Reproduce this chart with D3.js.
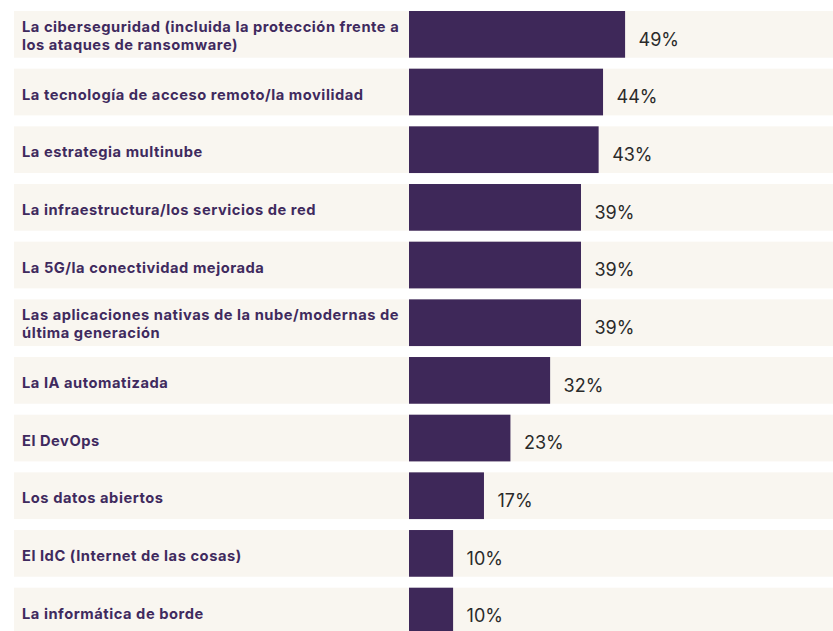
<!DOCTYPE html>
<html>
<head>
<meta charset="utf-8">
<script src="https://cdn.jsdelivr.net/npm/d3@7"></script>
<style>
  html, body { margin: 0; padding: 0; background: #ffffff; }
  svg { display: block; }
</style>
</head>
<body>
<svg id="chart" width="833" height="631"></svg>
<script>
const categories = [
  "La ciberseguridad (incluida la protección frente a\nlos ataques de ransomware)",
  "La tecnología de acceso remoto/la movilidad",
  "La estrategia multinube",
  "La infraestructura/los servicios de red",
  "La 5G/la conectividad mejorada",
  "Las aplicaciones nativas de la nube/modernas de\núltima generación",
  "La IA automatizada",
  "El DevOps",
  "Los datos abiertos",
  "El IdC (Internet de las cosas)",
  "La informática de borde"
];
const values = [49, 44, 43, 39, 39, 39, 32, 23, 17, 10, 10];

const data = categories.map((c, i) => ({ cat: c, value: values[i] }));

const svg = d3.select("#chart");
const W = 833;

const y = d3.scaleBand()
  .domain(categories)
  .range([11, 11 + 57.67 * (categories.length - 0.19)])
  .paddingInner(0.19)
  .paddingOuter(0);

const x = d3.scaleLinear().domain([0, 100]).range([409, 850]);

const rows = svg.selectAll("g.row").data(data).join("g").attr("class", "row");

rows.append("rect")
  .attr("x", 14)
  .attr("y", d => y(d.cat))
  .attr("width", W - 14)
  .attr("height", y.bandwidth())
  .attr("fill", "#f9f6f0");

rows.append("rect")
  .attr("x", x(0))
  .attr("y", d => y(d.cat))
  .attr("width", d => x(d.value) - x(0))
  .attr("height", y.bandwidth())
  .attr("fill", "#3e2859");

rows.each(function(d) {
  const g = d3.select(this);
  const lines = d.cat.split("\n");
  const top = y(d.cat);
  const t = g.append("text")
    .attr("font-family", "Inter, 'DejaVu Sans', sans-serif")
    .attr("font-weight", 700)
    .attr("font-size", 14.7)
    .attr("letter-spacing", 0.53)
    .attr("fill", "#3f2a5e");
  if (lines.length === 1) {
    t.append("tspan").attr("x", 22).attr("y", top + 31).text(lines[0]);
  } else {
    lines.forEach((l, i) => {
      t.append("tspan").attr("x", 22).attr("y", top + 21 + i * 17.8).text(l);
    });
  }
});

rows.append("text")
  .attr("x", d => x(d.value) + 13.5)
  .attr("y", d => y(d.cat) + 34.5)
  .attr("font-family", "Inter, 'DejaVu Sans', sans-serif")
  .attr("font-weight", 400)
  .attr("font-size", 18)
  .attr("fill", "#2a2a2a")
  .text(d => d.value + "%");
</script>
</body>
</html>
